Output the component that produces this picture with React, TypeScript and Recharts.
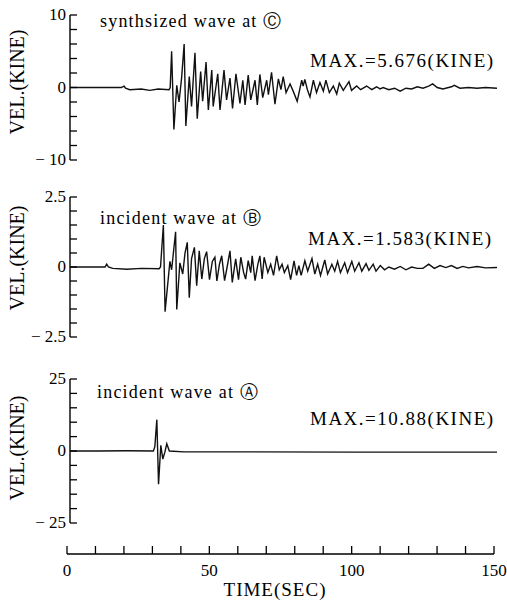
import React from 'react';
import { LineChart, Line, XAxis, YAxis } from 'recharts';

// time (s), velocity (kine) pairs
const synthWaveC: [number, number][] = [
  [0, 0], [18, 0], [19, 0.2], [19.5, -0.1], [21, -0.3], [25, -0.2], [28, -0.4], [31, -0.2], [34.8, -0.3], [35.2, 0],
  [35.7, 5.0], [36.5, -5.8], [37.5, 0.3], [38.3, -2.0], [39.2, 1.3], [40.1, 6.0], [40.7, -5.3], [41.9, 1.5], [42.7, -2.6],
  [43.9, 4.8], [44.7, -4.3], [45.9, 2.2], [46.6, -1.9], [47.8, 3.5], [48.6, -3.1], [49.8, 2.4], [50.3, -2.6], [51.9, 1.9],
  [52.7, -3.1], [54.1, 2.4], [55.0, -1.7], [56.2, 1.3], [57.1, -2.9], [58.3, 1.9], [59.7, -2.2], [60.7, 1.0], [61.5, -2.4],
  [62.6, 1.7], [63.5, -1.7], [65.0, 1.0], [65.8, -2.4], [66.7, 1.8], [67.7, -1.4], [69.1, 1.0], [69.7, -1.0], [70.8, 2.1],
  [72.0, -2.3], [73.2, 1.2], [74.1, -0.3], [74.9, 1.5], [75.9, -0.7], [77.3, 0.5], [78.4, -0.5], [79.8, -1.9], [81.4, 1.0],
  [81.9, 0.2], [82.5, 1.1], [83.4, -0.3], [84.3, -1.3], [85.5, 1.0], [86.6, -0.7], [87.8, 0.7], [89.0, -0.5], [89.9, 1.0],
  [91.1, -0.7], [92.5, 0.2], [93.7, -0.9], [94.6, 0.6], [96.0, -0.4], [98.0, 0.8], [98.9, -0.4], [100.7, 0.2], [102.1, -0.3],
  [104.2, 0.2], [106.0, -0.3], [107.7, 0.1], [108.9, -0.2], [110, 0], [112, -0.3], [114, -0.1], [116, -0.5], [118, -0.1],
  [120, -0.2], [122, 0.1], [124, -0.1], [126, 0.2], [127.4, 0.5], [129, 0], [131, -0.2], [134, 0.1], [135, 0.3], [137, -0.1],
  [140, 0], [143, -0.1], [146, 0], [150, -0.1],
];

const incidentWaveB: [number, number][] = [
  [0, 0], [12.3, 0], [12.9, 0.1], [13.5, 0], [15, -0.05], [20, -0.08], [25, -0.05], [31.3, -0.06], [31.8, 0],
  [32.8, 1.5], [33.4, -1.6], [35.1, 0.2], [35.7, -0.1], [37.1, 1.26], [37.5, -1.52], [38.6, 0.15], [39.6, -0.25], [40.4, 0.5],
  [41.2, 0.88], [41.9, -1.1], [42.7, 0.3], [43.7, 0.7], [44.5, -0.67], [45.4, 0.58], [46.3, -0.43], [47.2, 0.3], [48.0, 0.55],
  [49.0, -0.45], [50.0, 0.2], [50.9, 0.35], [51.6, -0.5], [52.5, 0.1], [53.3, 0.4], [54.3, -0.49], [55.2, 0.0], [56.2, 0.58],
  [57.0, -0.55], [58.2, 0.29], [59.2, -0.45], [60.0, 0.35], [61.0, -0.2], [61.7, -0.43], [62.6, 0.23], [63.5, -0.2],
  [64.0, 0.4], [65.0, -0.49], [66.0, 0.1], [66.7, 0.4], [67.5, -0.43], [68.2, 0.35], [69.5, -0.2], [70.5, 0.1], [71.5, -0.3],
  [72.6, 0.4], [73.5, -0.1], [74.5, 0.1], [75.3, -0.2], [76.5, 0.05], [77.5, -0.45], [78.7, 0.22], [79.6, -0.3], [80.4, 0.05],
  [81.2, -0.3], [82.5, 0.22], [83.5, -0.15], [85.0, 0.3], [86.0, -0.25], [87.0, 0.1], [88.0, -0.3], [89.5, 0.25], [90.5, -0.25],
  [92.0, 0.1], [93.0, -0.15], [94.0, 0.2], [95.0, -0.2], [96.5, 0.15], [97.5, -0.2], [99.0, 0.2], [100.0, -0.15],
  [101.5, 0.15], [102.5, -0.15], [104.0, 0.12], [105.0, -0.12], [106.5, 0.1], [107.5, -0.15], [109.0, 0.05], [110.5, -0.1],
  [112, 0], [114, -0.08], [116, 0.02], [118, -0.1], [120, 0], [122, -0.05], [124, -0.05], [126, 0.1], [128, -0.05],
  [130, 0.05], [132, -0.02], [134, 0.05], [136, -0.05], [138, 0.02], [140, -0.03], [143, 0.02], [146, -0.03], [150, -0.02],
];

const incidentWaveA: [number, number][] = [
  [0, 0], [10, 0], [20, 0.1], [29.3, 0], [29.8, 1.5], [30.5, 10.88], [31.1, -11.5], [31.9, 2.0], [32.6, -2.8], [33.3, -0.5],
  [34.0, 2.5], [34.9, 0], [40, -0.3], [60, -0.3], [100, -0.4], [150, -0.4],
];

const ticksC = [-10, -8, -6, -4, -2, 0, 2, 4, 6, 8, 10];
const ticksB = [-2.5, -2, -1.5, -1, -0.5, 0, 0.5, 1, 1.5, 2, 2.5];
const ticksA = [-25, -20, -15, -10, -5, 0, 5, 10, 15, 20, 25];
const labeledC = [-10, 0, 10];
const labeledB = [-2.5, 0, 2.5];
const labeledA = [-25, 0, 25];
const timeTicks = [0, 10, 20, 30, 40, 50, 60, 70, 80, 90, 100, 110, 120, 130, 140, 150];
const timeLabeled = [0, 50, 100, 150];

const FONT = "'Liberation Serif', 'Times New Roman', serif";

const fmt = (v: number) => (v < 0 ? '\u2212 ' + Math.abs(v) : String(v));

const YTick = (props: any) => {
  const { x, y, payload, labeled } = props;
  const show = labeled.includes(payload.value);
  return (
    <g>
      <line x1={x} x2={x + 7} y1={y} y2={y} stroke="#000" strokeWidth={1.3} />
      {show && (
        <text x={x - 4} y={y} dy={5} textAnchor="end" fontFamily={FONT} fontSize={17} fill="#000">
          {fmt(payload.value)}
        </text>
      )}
    </g>
  );
};

const XTick = (props: any) => {
  const { x, y, payload } = props;
  const show = timeLabeled.includes(payload.value);
  return (
    <g>
      <line x1={x} x2={x} y1={y} y2={y - 8} stroke="#000" strokeWidth={1.3} />
      {show && (
        <text x={x} y={y + 22} textAnchor="middle" fontFamily={FONT} fontSize={17} fill="#000">
          {payload.value}
        </text>
      )}
    </g>
  );
};

function Panel({ top, plotHeight, marginTop, data, domain, ticks, labeled }: any) {
  const rows = data.map(([t, v]: [number, number]) => ({ t, v }));
  const bottom = 14;
  return (
    <div style={{ position: 'absolute', left: 0, top }}>
      <LineChart
        width={507}
        height={marginTop + plotHeight + bottom}
        data={rows}
        margin={{ top: marginTop, right: 10, bottom, left: 30 }}
      >
        <XAxis type="number" dataKey="t" domain={[0, 150]} hide allowDataOverflow />
        <YAxis
          type="number"
          domain={domain}
          ticks={ticks}
          interval={0}
          width={40}
          tickSize={0}
          tickMargin={0}
          tickLine={false}
          axisLine={{ stroke: '#000', strokeWidth: 1.4 }}
          tick={(p: any) => <YTick {...p} labeled={labeled} />}
          allowDataOverflow
        />
        <Line type="linear" dataKey="v" stroke="#111" strokeWidth={1.4} dot={false} isAnimationActive={false} />
      </LineChart>
    </div>
  );
}

export default function App() {
  const axisRows = incidentWaveA.map(([t, v]) => ({ t, v }));
  return (
    <div style={{ position: 'absolute', left: 0, top: 0, width: 507, height: 610, background: '#fff' }}>
      <Panel top={0} plotHeight={145} marginTop={15} data={synthWaveC} domain={[-10, 10]} ticks={ticksC} labeled={labeledC} />
      <Panel top={180} plotHeight={140} marginTop={17} data={incidentWaveB} domain={[-2.5, 2.5]} ticks={ticksB} labeled={labeledB} />
      <Panel top={360} plotHeight={144} marginTop={19} data={incidentWaveA} domain={[-25, 25]} ticks={ticksA} labeled={labeledA} />
      <div style={{ position: 'absolute', left: 0, top: 540 }}>
        <LineChart width={507} height={70} data={axisRows} margin={{ top: 5, right: 13, bottom: 0, left: 67 }}>
          <XAxis
            type="number"
            dataKey="t"
            domain={[0, 150]}
            ticks={timeTicks}
            interval={0}
            height={56}
            tickSize={0}
            tickMargin={0}
            tickLine={false}
            axisLine={{ stroke: '#000', strokeWidth: 1.4 }}
            tick={(p: any) => <XTick {...p} />}
          />
        </LineChart>
      </div>
      <svg width={507} height={610} style={{ position: 'absolute', left: 0, top: 0, pointerEvents: 'none' }}>
        <g fontFamily={FONT} fill="#000">
          <text x={100} y={27} fontSize={18} letterSpacing={1.2}>synthsized wave at Ⓒ</text>
          <text x={310} y={67} fontSize={19} letterSpacing={1.5}>MAX.=5.676(KINE)</text>
          <text x={100} y={224} fontSize={18} letterSpacing={1.2}>incident wave at Ⓑ</text>
          <text x={308} y={245} fontSize={19} letterSpacing={1.5}>MAX.=1.583(KINE)</text>
          <text x={97} y={398} fontSize={18} letterSpacing={1.2}>incident wave at Ⓐ</text>
          <text x={310} y={425} fontSize={19} letterSpacing={1.5}>MAX.=10.88(KINE)</text>
          <text x={17} y={82} transform="rotate(-90 17 82)" textAnchor="middle" dy={7} fontSize={20}>VEL.(KINE)</text>
          <text x={17} y={258} transform="rotate(-90 17 258)" textAnchor="middle" dy={7} fontSize={20}>VEL.(KINE)</text>
          <text x={17} y={448} transform="rotate(-90 17 448)" textAnchor="middle" dy={7} fontSize={20}>VEL.(KINE)</text>
          <text x={275} y={596} textAnchor="middle" fontSize={19} letterSpacing={1}>TIME(SEC)</text>
        </g>
      </svg>
    </div>
  );
}
